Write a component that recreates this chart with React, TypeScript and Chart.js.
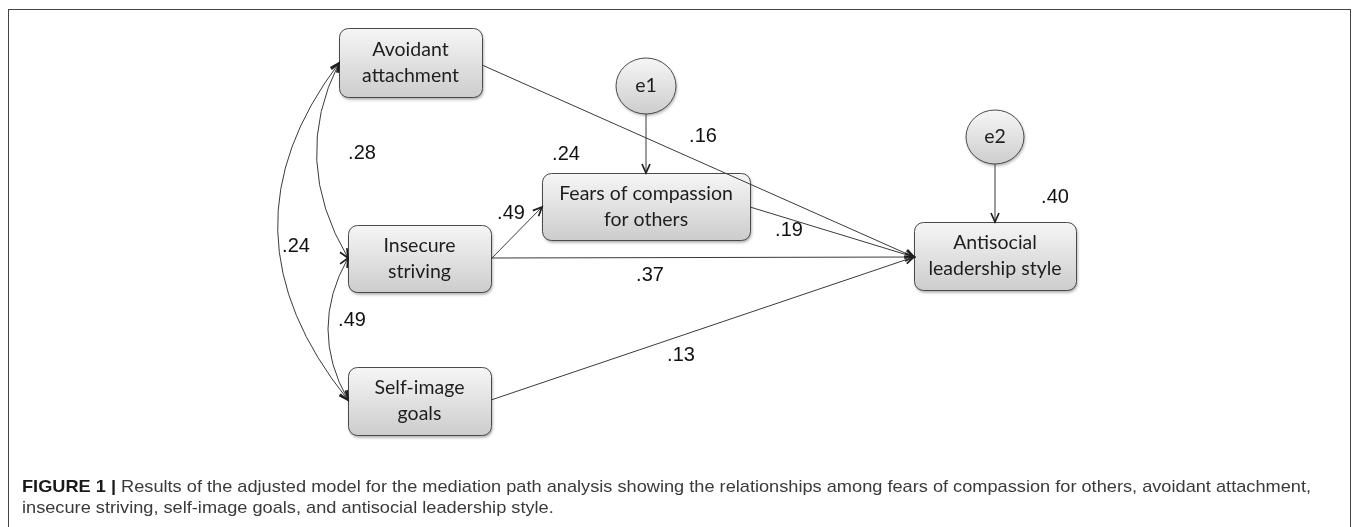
import React, { useEffect, useRef } from "react";
import { Chart, registerables } from "chart.js";

Chart.register(...registerables);

// ---------- data ----------
const variableLines: string[][] = [
  ["Avoidant", "attachment"],
  ["Insecure", "striving"],
  ["Self-image", "goals"],
  ["Fears of compassion", "for others"],
  ["Antisocial", "leadership style"],
];
const errorTerms = ["e1", "e2"];
// paths: Avoidant→Antisocial, Insecure→Fears, Fears→Antisocial, Insecure→Antisocial, Self-image→Antisocial
const pathCoefficients = [".16", ".49", ".19", ".37", ".13"];
// correlations: Avoidant↔Insecure, Avoidant↔Self-image, Insecure↔Self-image
const correlations = [".28", ".24", ".49"];
// explained variance: Fears, Antisocial
const rSquared = [".24", ".40"];
const captionBold = "FIGURE 1 |";
const captionLine1 =
  " Results of the adjusted model for the mediation path analysis showing the relationships among fears of compassion for others, avoidant attachment,";
const captionLine2 =
  "insecure striving, self-image goals, and antisocial leadership style.";

// ---------- layout (diagram units) ----------
const W = 1357;
const H = 527;
const boxLayout = [
  { x0: 339, y0: 28, x1: 482, y1: 97 },
  { x0: 348, y0: 225, x1: 491, y1: 292 },
  { x0: 348, y0: 367, x1: 491, y1: 435 },
  { x0: 542, y0: 173, x1: 750, y1: 240 },
  { x0: 914, y0: 222, x1: 1076, y1: 290 },
];
const errorLayout = [
  { cx: 646, cy: 86, rx: 30, ry: 28 },
  { cx: 995, cy: 137, rx: 29, ry: 27 },
];
const pathLayout = [
  { a: [482, 65], b: [914, 257] },
  { a: [491, 259], b: [542, 207] },
  { a: [750, 207], b: [914, 257] },
  { a: [491, 258], b: [914, 257] },
  { a: [491, 400], b: [914, 257] },
];
const errorPathLayout = [
  { a: [646, 114], b: [646, 173] },
  { a: [995, 164], b: [995, 222] },
];
const curveLayout = [
  { a: [339, 63], c: [290, 160], b: [348, 258] },
  { a: [339, 63], c: [212, 231], b: [348, 400] },
  { a: [348, 258], c: [308, 329], b: [348, 400] },
];
const pathLabelPos = [
  [703, 136],
  [511, 213],
  [789, 230],
  [650, 275],
  [681, 355],
];
const corrLabelPos = [
  [362, 153],
  [296, 246],
  [352, 320],
];
const r2LabelPos = [
  [566, 154],
  [1055, 197],
];

const NODE_FONT = '19.5px Lato, "Open Sans", sans-serif';
const NUM_FONT = '20px "Liberation Sans", Arial, sans-serif';
const LINE = "#3a3a3a";

function arrowHead(ctx: CanvasRenderingContext2D, x: number, y: number, ang: number) {
  const len = 9;
  const half = 4;
  ctx.save();
  ctx.translate(x, y);
  ctx.rotate(ang);
  ctx.beginPath();
  ctx.moveTo(-len, -half);
  ctx.lineTo(0, 0);
  ctx.lineTo(-len, half);
  ctx.strokeStyle = "#1e1e1e";
  ctx.lineWidth = 1.7;
  ctx.lineJoin = "miter";
  ctx.stroke();
  ctx.restore();
}

const diagramPlugin = {
  id: "pathDiagram",
  afterDatasetsDraw(chart: any) {
    const ctx: CanvasRenderingContext2D = chart.ctx;
    const xs = chart.scales.x;
    const ys = chart.scales.y;
    const px = (v: number) => xs.getPixelForValue(v);
    const py = (v: number) => ys.getPixelForValue(v);

    ctx.save();
    // outer frame
    ctx.strokeStyle = "#444";
    ctx.lineWidth = 1;
    ctx.strokeRect(px(8) + 0.5, py(9) + 0.5, px(1350) - px(8), py(560) - py(9));

    // boxes
    boxLayout.forEach((b, i) => {
      const x0 = px(b.x0), y0 = py(b.y0), x1 = px(b.x1), y1 = py(b.y1);
      const g = ctx.createLinearGradient(0, y0, 0, y1);
      g.addColorStop(0, "#f6f6f6");
      g.addColorStop(1, "#cdcdcd");
      ctx.save();
      ctx.shadowColor = "rgba(0,0,0,0.35)";
      ctx.shadowBlur = 3;
      ctx.shadowOffsetX = 1;
      ctx.shadowOffsetY = 2;
      ctx.beginPath();
      ctx.roundRect(x0 + 0.5, y0 + 0.5, x1 - x0, y1 - y0, 9);
      ctx.fillStyle = g;
      ctx.fill();
      ctx.restore();
      ctx.beginPath();
      ctx.roundRect(x0 + 0.5, y0 + 0.5, x1 - x0, y1 - y0, 9);
      ctx.strokeStyle = "#4a4a4a";
      ctx.lineWidth = 1;
      ctx.stroke();
      ctx.fillStyle = "#1e1e1e";
      ctx.font = NODE_FONT;
      ctx.textAlign = "center";
      ctx.textBaseline = "middle";
      const lines = variableLines[i];
      const mx = (x0 + x1) / 2;
      const my = (y0 + y1) / 2;
      const lh = 26;
      lines.forEach((t, k) => {
        ctx.fillText(t, mx, my + (k - (lines.length - 1) / 2) * lh);
      });
    });

    // error ellipses
    errorLayout.forEach((e, i) => {
      const cx = px(e.cx), cy = py(e.cy);
      const rx = Math.abs(px(e.cx + e.rx) - cx), ry = Math.abs(py(e.cy + e.ry) - cy);
      const g = ctx.createLinearGradient(0, cy - ry, 0, cy + ry);
      g.addColorStop(0, "#f6f6f6");
      g.addColorStop(1, "#cdcdcd");
      ctx.save();
      ctx.shadowColor = "rgba(0,0,0,0.3)";
      ctx.shadowBlur = 3;
      ctx.shadowOffsetX = 1;
      ctx.shadowOffsetY = 2;
      ctx.beginPath();
      ctx.ellipse(cx, cy, rx, ry, 0, 0, Math.PI * 2);
      ctx.fillStyle = g;
      ctx.fill();
      ctx.restore();
      ctx.beginPath();
      ctx.ellipse(cx, cy, rx, ry, 0, 0, Math.PI * 2);
      ctx.strokeStyle = "#4a4a4a";
      ctx.lineWidth = 1;
      ctx.stroke();
      ctx.fillStyle = "#1e1e1e";
      ctx.font = NODE_FONT;
      ctx.textAlign = "center";
      ctx.textBaseline = "middle";
      ctx.fillText(errorTerms[i], cx, cy);
    });

    // straight paths (drawn over boxes)
    const allPaths = [...pathLayout, ...errorPathLayout];
    allPaths.forEach((p) => {
      const ax = px(p.a[0]), ay = py(p.a[1]), bx = px(p.b[0]), by = py(p.b[1]);
      ctx.beginPath();
      ctx.moveTo(ax, ay);
      ctx.lineTo(bx, by);
      ctx.strokeStyle = LINE;
      ctx.lineWidth = 1;
      ctx.stroke();
      arrowHead(ctx, bx, by, Math.atan2(by - ay, bx - ax));
    });

    // curved double-headed correlations
    curveLayout.forEach((c) => {
      const ax = px(c.a[0]), ay = py(c.a[1]);
      const cx = px(c.c[0]), cy = py(c.c[1]);
      const bx = px(c.b[0]), by = py(c.b[1]);
      ctx.beginPath();
      ctx.moveTo(ax, ay);
      ctx.quadraticCurveTo(cx, cy, bx, by);
      ctx.strokeStyle = LINE;
      ctx.lineWidth = 1;
      ctx.stroke();
      arrowHead(ctx, ax, ay, Math.atan2(ay - cy, ax - cx));
      arrowHead(ctx, bx, by, Math.atan2(by - cy, bx - cx));
    });

    // coefficient labels from dataset elements
    ctx.font = NUM_FONT;
    ctx.fillStyle = "#111";
    ctx.textAlign = "center";
    ctx.textBaseline = "middle";
    chart.data.datasets.forEach((ds: any, di: number) => {
      const meta = chart.getDatasetMeta(di);
      meta.data.forEach((el: any, j: number) => {
        ctx.fillText(ds.labelsText[j], el.x, el.y);
      });
    });

    // caption
    const left = px(22);
    const target = px(1311) - left;
    const size = 17;
    const boldFont = `bold ${size}px "Liberation Sans", Arial, sans-serif`;
    const normFont = `${size}px "Liberation Sans", Arial, sans-serif`;
    ctx.font = boldFont;
    const wb = ctx.measureText(captionBold).width;
    ctx.font = normFont;
    const wn = ctx.measureText(captionLine1).width;
    const sx = target / (wb + wn);
    ctx.textAlign = "left";
    ctx.textBaseline = "middle";
    ctx.save();
    ctx.translate(left, py(487));
    ctx.scale(sx, 1);
    ctx.font = boldFont;
    ctx.fillStyle = "#1a1a1a";
    ctx.fillText(captionBold, 0, 0);
    ctx.font = normFont;
    ctx.fillStyle = "#3a3a3a";
    ctx.fillText(captionLine1, wb, 0);
    ctx.restore();
    ctx.save();
    ctx.translate(left, py(508));
    ctx.scale(sx, 1);
    ctx.font = normFont;
    ctx.fillStyle = "#3a3a3a";
    ctx.fillText(captionLine2, 0, 0);
    ctx.restore();

    ctx.restore();
  },
};

export default function App() {
  const ref = useRef<HTMLCanvasElement | null>(null);
  useEffect(() => {
    document.body.style.margin = "0";
    const canvas = ref.current;
    if (!canvas) return;
    const toPts = (pos: number[][]) => pos.map((p) => ({ x: p[0], y: p[1] }));
    const chart = new Chart(canvas, {
      type: "scatter",
      data: {
        datasets: [
          { label: "paths", data: toPts(pathLabelPos), pointRadius: 0, labelsText: pathCoefficients } as any,
          { label: "correlations", data: toPts(corrLabelPos), pointRadius: 0, labelsText: correlations } as any,
          { label: "r2", data: toPts(r2LabelPos), pointRadius: 0, labelsText: rSquared } as any,
        ],
      },
      options: {
        animation: false,
        responsive: false,
        devicePixelRatio: 1,
        layout: { padding: 0 },
        events: [],
        plugins: { legend: { display: false }, tooltip: { enabled: false } },
        scales: {
          x: { type: "linear", min: 0, max: W, display: false },
          y: { type: "linear", min: 0, max: H, reverse: true, display: false },
        },
      },
      plugins: [diagramPlugin],
    });
    return () => chart.destroy();
  }, []);
  return (
    <div style={{ width: W, height: H, background: "#fff" }}>
      <canvas ref={ref} width={W} height={H} style={{ display: "block" }} />
    </div>
  );
}
